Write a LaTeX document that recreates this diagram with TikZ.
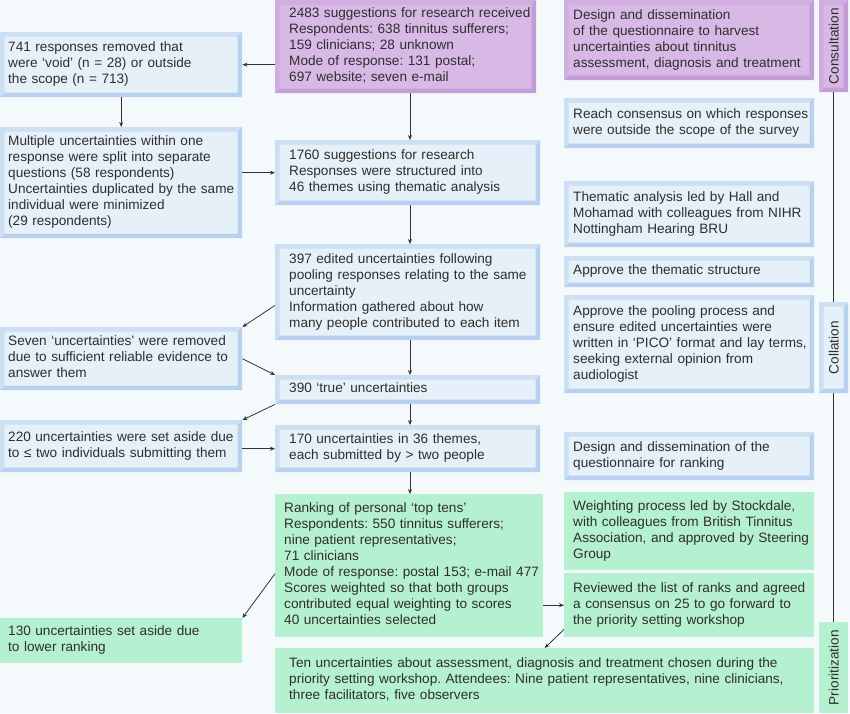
\documentclass[tikz,border=0pt]{standalone}
\usepackage{fontspec}
\setmainfont{Liberation Sans}
\usepackage{graphicx}
\usetikzlibrary{arrows.meta,calc}
\frenchspacing
\definecolor{bg}{HTML}{F4FAFC}
\definecolor{bluefill}{HTML}{E6F0F8}
\definecolor{bluelight}{HTML}{CCDFF3}
\definecolor{bluedark}{HTML}{B7D1EE}
\definecolor{purplefill}{HTML}{D8B9E6}
\definecolor{purplelight}{HTML}{D0AEE1}
\definecolor{purpledark}{HTML}{C29DD7}
\definecolor{greenfill}{HTML}{B5F1D0}
\definecolor{txtcol}{HTML}{2E2E2E}
\definecolor{arrcol}{HTML}{333333}
\newcommand\boxlines[1]{\begin{tabular}{@{}l@{}}#1\end{tabular}}
\tikzset{
 base/.style={anchor=north west, rectangle, inner ysep=0pt, align=left, text=txtcol,
   font=\fontsize{13.6pt}{16pt}\selectfont},
 bevel/.style 2 args={path picture={
   \coordinate (pSW) at (path picture bounding box.south west);
   \coordinate (pNE) at (path picture bounding box.north east);
   \coordinate (pNW) at (pSW |- pNE);
   \coordinate (pSE) at (pNE |- pSW);
   \fill[#1] (pSW) -- (pNW) -- (pNE) -- ($(pNE)+(-4.5pt,-4.5pt)$) -- ($(pNW)+(4.5pt,-4.5pt)$) -- ($(pSW)+(4.5pt,4.5pt)$) -- cycle;
   \fill[#2] (pSW) -- (pSE) -- (pNE) -- ($(pNE)+(-4.5pt,-4.5pt)$) -- ($(pSE)+(-4.5pt,4.5pt)$) -- ($(pSW)+(4.5pt,4.5pt)$) -- cycle;
 }},
 bluebox/.style={base, fill=bluefill, bevel={bluelight}{bluedark}},
 purplebox/.style={base, fill=purplefill, bevel={purplelight}{purpledark}},
 greenbox/.style={base, fill=greenfill},
 leftcol/.style={minimum width=242pt, text width=226pt, inner xsep=8pt},
 midcol/.style={minimum width=265pt, text width=237pt, inner xsep=14pt},
 rightcol/.style={minimum width=250pt, text width=232pt, inner xsep=9pt},
 side/.style={anchor=north west, rectangle, minimum width=29pt, inner sep=0pt, text=txtcol,
   font=\fontsize{13.6pt}{16pt}\selectfont},
 arr/.style={draw=arrcol, line width=0.8pt, -{Stealth[length=5pt,width=4pt]}},
 sideline/.style={draw=arrcol, line width=0.9pt},
}
\begin{document}
\begin{tikzpicture}[x=1pt,y=-1pt]
\fill[bg] (0,0) rectangle (850,713);
\useasboundingbox (0,0) rectangle (850,713);

% left column
\node[bluebox, leftcol, minimum height=65pt] (L1) at (0,32) {\boxlines{741 responses removed that\\ were ‘void’ (n = 28) or outside\\ the scope (n = 713)}};
\node[bluebox, leftcol, minimum height=111pt] (L2) at (0,127) {\boxlines{Multiple uncertainties within one\\ response were split into separate\\ questions (58 respondents)\\ Uncertainties duplicated by the same\\ individual were minimized\\ (29 respondents)}};
\node[bluebox, leftcol, minimum height=63pt] (L3) at (0,327) {\boxlines{Seven ‘uncertainties’ were removed\\ due to sufficient reliable evidence to\\ answer them}};
\node[bluebox, leftcol, minimum height=52pt] (L4) at (0,420) {\boxlines{220 uncertainties were set aside due\\ to ≤ two individuals submitting them}};
\node[greenbox, leftcol, minimum height=45pt] (L5) at (0,618) {\boxlines{130 uncertainties set aside due\\ to lower ranking}};

% middle column
\node[purplebox, minimum width=261pt, text width=233pt, inner xsep=14pt, minimum height=93pt] (M1) at (275,0) {\boxlines{2483 suggestions for research received\\ Respondents: 638 tinnitus sufferers;\\ 159 clinicians; 28 unknown\\ Mode of response: 131 postal;\\ 697 website; seven e-mail}};
\node[bluebox, midcol, minimum height=65pt] (M2) at (275,140) {\boxlines{1760 suggestions for research\\ Responses were structured into\\ 46 themes using thematic analysis}};
\node[bluebox, midcol, minimum height=96pt] (M3) at (275,244) {\boxlines{397 edited uncertainties following\\ pooling responses relating to the same\\ uncertainty\\ Information gathered about how\\ many people contributed to each item}};
\node[bluebox, midcol, minimum height=29pt] (M4) at (275,375) {\boxlines{390 ‘true’ uncertainties}};
\node[bluebox, midcol, minimum height=47pt] (M5) at (275,425) {\boxlines{170 uncertainties in 36 themes,\\ each submitted by > two people}};
\node[greenbox, minimum width=268pt, text width=250pt, inner xsep=9pt, minimum height=143pt] (M6) at (275,494) {\boxlines{Ranking of personal ‘top tens’\\ Respondents: 550 tinnitus sufferers;\\ nine patient representatives;\\ 71 clinicians\\ Mode of response: postal 153; e-mail 477\\ Scores weighted so that both groups\\ contributed equal weighting to scores\\ 40 uncertainties selected}};
\node[greenbox, minimum width=539pt, text width=511pt, inner xsep=14pt, minimum height=65pt] (M7) at (275,648) {\boxlines{Ten uncertainties about assessment, diagnosis and treatment chosen during the\\ priority setting workshop. Attendees: Nine patient representatives, nine clinicians,\\ three facilitators, five observers}};

% right column
\node[purplebox, rightcol, minimum height=80pt] (R1) at (564,0) {\boxlines{Design and dissemination\\ of the questionnaire to harvest\\ uncertainties about tinnitus\\ assessment, diagnosis and treatment}};
\node[bluebox, rightcol, minimum height=50pt] (R2) at (564,98) {\boxlines{Reach consensus on which responses\\ were outside the scope of the survey}};
\node[bluebox, rightcol, minimum height=66pt] (R3) at (564,181) {\boxlines{Thematic analysis led by Hall and\\ Mohamad with colleagues from NIHR\\ Nottingham Hearing BRU}};
\node[bluebox, rightcol, minimum height=31pt] (R4) at (564,256) {\boxlines{Approve the thematic structure}};
\node[bluebox, rightcol, minimum height=98pt] (R5) at (564,295) {\boxlines{Approve the pooling process and\\ ensure edited uncertainties were\\ written in ‘PICO’ format and lay terms,\\ seeking external opinion from\\ audiologist}};
\node[bluebox, rightcol, minimum height=48pt] (R6) at (564,432) {\boxlines{Design and dissemination of the\\ questionnaire for ranking}};
\node[greenbox, rightcol, minimum height=78pt] (R7) at (564,492) {\boxlines{Weighting process led by Stockdale,\\ with colleagues from British Tinnitus\\ Association, and approved by Steering\\ Group}};
\node[greenbox, rightcol, minimum height=64pt] (R8) at (564,573) {\boxlines{Reviewed the list of ranks and agreed\\ a consensus on 25 to go forward to\\ the priority setting workshop}};

% side bar
\node[side, fill=purplefill, bevel={purplelight}{purpledark}, minimum height=92pt] (S1) at (819,0) {\rotatebox{90}{Consultation}};
\node[side, fill=greenfill, minimum height=91pt] (S3) at (819,622) {\rotatebox{90}{Prioritization}};
\draw[sideline] (S1.south) -- (S3.north);
\node[side, fill=bluefill, bevel={bluelight}{bluedark}, minimum height=91pt] (S2) at (819,302) {\rotatebox{90}{Collation}};

% connectors
\coordinate (cx) at (410,0);
\draw[arr] (M1.west |- L1.east) -- (L1.east);
\draw[arr] (L1.south) -- (L2.north);
\draw[arr] (M1.south -| cx) -- (M2.north -| cx);
\draw[arr] (L2.east |- M2.west) -- (M2.west);
\draw[arr] (M2.south -| cx) -- (M3.north -| cx);
\draw[arr] ([yshift=35pt]M3.south west) -- (L3.north east);
\draw[arr] (L3.east) -- (M4.north west);
\draw[arr] (M3.south -| cx) -- (M4.north -| cx);
\draw[arr] (M4.south west) -- (L4.north east);
\draw[arr] (L4.east |- M5.west) -- (M5.west);
\draw[arr] (M4.south -| cx) -- (M5.north -| cx);
\draw[arr] (M5.south -| cx) -- (M6.north -| cx);
\draw[arr] ([yshift=-8pt]M6.west) -- (L5.north east);
\draw[arr] (M6.east |- R8.west) -- (R8.west);
\draw[arr] ([yshift=8pt]R8.south west) -- (M7.north);
\end{tikzpicture}
\end{document}
